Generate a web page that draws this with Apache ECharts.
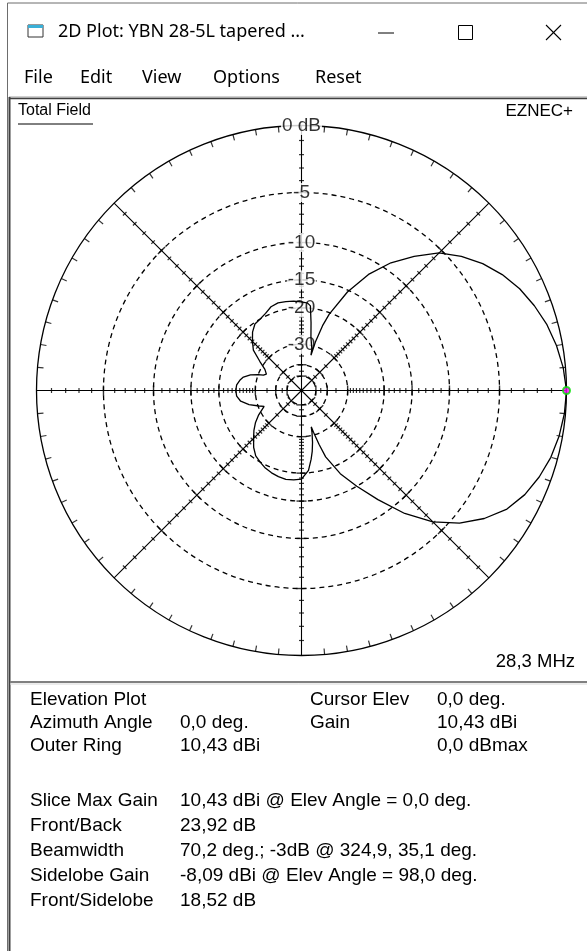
<!DOCTYPE html>
<html><head><meta charset="utf-8">
<script src="https://cdn.jsdelivr.net/npm/echarts@6/dist/echarts.min.js"></script>
<style>html,body{margin:0;padding:0;background:#fff;}#c{width:587px;height:951px;}</style>
</head><body><div id="c"></div>
<script>
// ---- pattern data (elevation angle in degrees, gain in dB relative to max) ----
const elevAngles = [0,5,10,15,20,25,30,35,40,45,50,55,60,65,70,72,74,75,76,78,80,82,84,86,90,95,100,105,110,115,120,125,130,135,140,145,150,155,158,160,163,167,170,175,180,185,190,195,200,203,205,210,215,220,225,230,235,240,245,250,255,260,265,270,275,278,280,282,284,285,286,288,290,295,300,305,310,315,320,325,330,335,340,345,350,355,360];
const gainDb = [0,-0.15,-0.4,-0.72,-1.15,-1.65,-2.3,-3.1,-4.1,-5.3,-7.1,-9.1,-11.7,-15.3,-20.3,-23.3,-28.5,-34,-31.3,-29.4,-27.2,-23.2,-19.5,-19.0,-18.8,-18.6,-18.5,-18.4,-18.7,-19.5,-20.0,-20.3,-21.4,-23.0,-24.7,-28.3,-31.5,-33.0,-32.0,-30.0,-27.5,-25.6,-24.9,-24.1,-23.92,-24.1,-25.0,-27.2,-30.3,-32.2,-31.6,-28.7,-26.6,-24.9,-23.4,-21.8,-20.6,-20.0,-19.4,-19.0,-18.7,-18.5,-18.6,-18.8,-20.5,-23.0,-25.0,-27.6,-31.0,-33.5,-31.0,-26.5,-22.7,-18.2,-15.0,-11.8,-8.6,-6.1,-4.3,-2.95,-1.9,-1.25,-0.8,-0.45,-0.22,-0.07,0];
// grid rings (dB) and labels
const ringDb = [-5,-10,-15,-20,-30,-40,-50];
const ringLabelDb = [0,-5,-10,-15,-20,-30];
const ringLabelText = ['0 dB','-5','-10','-15','-20','-30'];
const spokeAngles = [0,45,90,135,180,225,270,315];
const minorTickDb = [-1,-2,-3,-4,-6,-7,-8,-9,-11,-12,-13,-14,-16,-17,-18,-19,-21,-22,-23,-24,-25,-26,-27,-28,-29,-35,-45];
const cursorAngle = [0];
const cursorDb = [0];
// text panel
const infoRows1 = [['Elevation Plot','','Cursor Elev','0,0 deg.'],['Azimuth Angle','0,0 deg.','Gain','10,43 dBi'],['Outer Ring','10,43 dBi','','0,0 dBmax']];
const infoRows2 = [['Slice Max Gain','10,43 dBi @ Elev Angle = 0,0 deg.'],['Front/Back','23,92 dB'],['Beamwidth','70,2 deg.; -3dB @ 324,9, 35,1 deg.'],['Sidelobe Gain','-8,09 dBi @ Elev Angle = 98,0 deg.'],['Front/Sidelobe','18,52 dB']];
const menuItems = ['File','Edit','View','Options','Reset'];
const titleText = '2D Plot: YBN 28-5L tapered ...';

// ARRL log scale used by EZNEC: each 2 dB -> factor 0.89
const arrl = db => Math.pow(0.89, -db / 2);

const chart = echarts.init(document.getElementById('c'), null, {renderer:'canvas'});
const patternData = elevAngles.map((a, i) => [arrl(gainDb[i]), a]);
const ringR = ringDb.map(arrl);

const minorTicks = [], majorTicks = [];
spokeAngles.forEach(a => {
  minorTickDb.forEach(d => minorTicks.push([arrl(d), a]));
  ringDb.forEach(d => majorTicks.push([arrl(d), a]));
});
const outerTicks = [];
for (let a = 0; a < 360; a += 5) { if (a % 45 !== 0) outerTicks.push([1 - 3 / 265, a]); }

const labelData = ringLabelDb.map((d, i) => ({value: [arrl(d), 90], name: ringLabelText[i]}));

const F = 'Liberation Sans, Arial, sans-serif';
const UI = 'Noto Sans, Open Sans, sans-serif';
const g = [];
// window chrome
g.push({type:'rect', shape:{x:0,y:0,width:587,height:951}, style:{fill:'#fff'}, z:-100});
g.push({type:'line', shape:{x1:7.5,y1:3,x2:587,y2:3}, style:{stroke:'#6d6d6d', lineWidth:1}, z:50});
g.push({type:'line', shape:{x1:7.5,y1:3,x2:7.5,y2:951}, style:{stroke:'#6d6d6d', lineWidth:1}, z:50});
// icon
g.push({type:'rect', shape:{x:28,y:25,width:15,height:12}, style:{fill:'#fff', stroke:'#333', lineWidth:1}, z:50});
g.push({type:'rect', shape:{x:28,y:25,width:15,height:3}, style:{fill:'#3ab0d8'}, z:51});
g.push({type:'text', style:{text:titleText, x:58, y:32, font:'18px '+UI, fill:'#000', verticalAlign:'middle'}, z:50});
g.push({type:'line', shape:{x1:378,y1:33,x2:394,y2:33}, style:{stroke:'#000', lineWidth:1}, z:50});
g.push({type:'rect', shape:{x:458.5,y:25.5,width:14,height:14}, style:{fill:'none', stroke:'#000', lineWidth:1}, z:50});
g.push({type:'line', shape:{x1:546,y1:25,x2:561,y2:40}, style:{stroke:'#000', lineWidth:1.1}, z:50});
g.push({type:'line', shape:{x1:561,y1:25,x2:546,y2:40}, style:{stroke:'#000', lineWidth:1.1}, z:50});
const menuX = [24, 80, 142, 213, 315];
menuItems.forEach((m, i) => g.push({type:'text', style:{text:m, x:menuX[i], y:78, font:'18px '+UI, fill:'#000', verticalAlign:'middle'}, z:50}));
// plot panel border
g.push({type:'line', shape:{x1:9,y1:97,x2:587,y2:97}, style:{stroke:'#a0a0a0', lineWidth:1}, z:50});
g.push({type:'line', shape:{x1:10,y1:98.5,x2:587,y2:98.5}, style:{stroke:'#404040', lineWidth:1.5}, z:50});
g.push({type:'line', shape:{x1:9.5,y1:97,x2:9.5,y2:951}, style:{stroke:'#404040', lineWidth:2}, z:50});
// separator
g.push({type:'line', shape:{x1:10,y1:682,x2:587,y2:682}, style:{stroke:'#808080', lineWidth:2}, z:50});
g.push({type:'line', shape:{x1:10,y1:684,x2:587,y2:684}, style:{stroke:'#d8d8d8', lineWidth:1}, z:50});
// plot labels
g.push({type:'text', style:{text:'Total Field', x:18, y:111, font:'16px '+F, fill:'#000', verticalAlign:'middle'}, z:50});
g.push({type:'line', shape:{x1:18,y1:124,x2:93,y2:124}, style:{stroke:'#000', lineWidth:1}, z:50});
g.push({type:'text', style:{text:'EZNEC+', x:573, y:111, font:'17px '+F, fill:'#000', align:'right', verticalAlign:'middle'}, z:50});
g.push({type:'text', style:{text:'28,3 MHz', x:575, y:662, font:'18.5px '+F, fill:'#000', align:'right', verticalAlign:'middle'}, z:50});
// info panel
const colX = [30, 180, 310, 437];
const rowY1 = [700, 723, 746];
infoRows1.forEach((r, i) => r.forEach((t, j) => { if (t) g.push({type:'text', style:{text:t, x:colX[j], y:rowY1[i], font:'19px '+F, fill:'#000', verticalAlign:'middle'}, z:50}); }));
const rowY2 = [801, 826, 851, 876, 901];
infoRows2.forEach((r, i) => r.forEach((t, j) => g.push({type:'text', style:{text:t, x:colX[j], y:rowY2[i], font:'19px '+F, fill:'#000', verticalAlign:'middle'}, z:50})));

chart.setOption({
  backgroundColor:'#fff',
  animation:false,
  polar:{center:[301.5, 390.5], radius:[0, 265]},
  angleAxis:{type:'value', min:0, max:360, startAngle:0, clockwise:false, interval:45,
    axisLine:{show:true, lineStyle:{color:'#000', width:1.3}},
    axisTick:{show:false}, axisLabel:{show:false},
    splitLine:{show:true, lineStyle:{color:'#000', width:1.1}}},
  radiusAxis:{type:'value', min:0, max:1,
    axisLine:{show:false}, axisLabel:{show:false, customValues:ringR},
    axisTick:{show:false, customValues:ringR},
    splitLine:{show:true, lineStyle:{color:'#000', width:1.3, type:[5,4]}}},
  graphic:{elements:g},
  series:[
    {type:'scatter', coordinateSystem:'polar', data:minorTicks, symbol:'rect', symbolSize:[1.2,5],
      symbolRotate:(v)=>v[1], itemStyle:{color:'#000'}, silent:true, z:3},
    {type:'scatter', coordinateSystem:'polar', data:majorTicks, symbol:'rect', symbolSize:[1.4,10],
      symbolRotate:(v)=>v[1], itemStyle:{color:'#000'}, silent:true, z:3},
    {type:'scatter', coordinateSystem:'polar', data:outerTicks, symbol:'rect', symbolSize:[6,1.2],
      symbolRotate:(v)=>v[1], itemStyle:{color:'#000'}, silent:true, z:3},
    {type:'scatter', coordinateSystem:'polar', data:labelData, symbolSize:0, z:4, silent:true,
      label:{show:true, position:'inside', formatter:p=>p.name, color:'#000', fontFamily:F, fontSize:19,
        backgroundColor:'#fff', padding:[0,1,0,1]}},
    {type:'line', coordinateSystem:'polar', data:patternData, symbol:'none', smooth:false,
      lineStyle:{color:'#000', width:1.3}, z:6, silent:true},
    {type:'scatter', coordinateSystem:'polar', data:cursorAngle.map((a,i)=>[arrl(cursorDb[i]), a]), symbol:'circle', symbolSize:7,
      itemStyle:{color:'#ff00ff', borderColor:'#00e000', borderWidth:2}, z:8, silent:true}
  ]
});
</script></body></html>
